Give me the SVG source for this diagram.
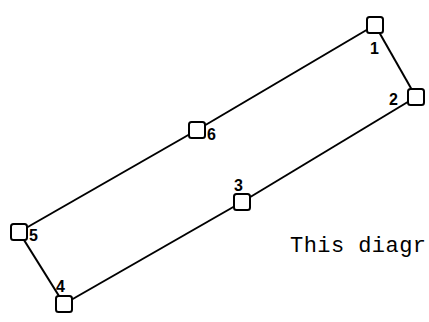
<svg xmlns="http://www.w3.org/2000/svg" width="429" height="322" viewBox="0 0 429 322">
<style>
.e{stroke:#000;stroke-width:2;fill:none}
.n{fill:#fff;stroke:#000;stroke-width:2}
.l{font-family:"Liberation Sans",Arial,sans-serif;font-size:16px;font-weight:bold;fill:#000}
.t{font-family:"Liberation Mono","DejaVu Sans Mono",monospace;font-size:22px;fill:#000}
</style>
<rect width="429" height="322" fill="#fff"/>
<g id="connectors">
<line class="e" x1="375" y1="25" x2="416" y2="97"/>
<line class="e" x1="416" y1="97" x2="242" y2="202"/>
<line class="e" x1="242" y1="202" x2="64" y2="304"/>
<line class="e" x1="64" y1="304" x2="19" y2="232"/>
<line class="e" x1="19" y1="232" x2="197" y2="130"/>
<line class="e" x1="197" y1="130" x2="375" y2="25"/>
</g>
<g id="n1"><rect class="n" x="367" y="17" width="16" height="16" rx="2.5"/><text class="l" x="370" y="54">1</text></g>
<g id="n2"><rect class="n" x="408" y="89" width="16" height="16" rx="2.5"/><text class="l" x="389" y="105">2</text></g>
<g id="n3"><rect class="n" x="234" y="194" width="16" height="16" rx="2.5"/><text class="l" x="234" y="191">3</text></g>
<g id="n4"><rect class="n" x="56" y="296" width="16" height="16" rx="2.5"/><text class="l" x="56" y="292">4</text></g>
<g id="n5"><rect class="n" x="11" y="224" width="16" height="16" rx="2.5"/><text class="l" x="29" y="241">5</text></g>
<g id="n6"><rect class="n" x="189" y="122" width="16" height="16" rx="2.5"/><text class="l" x="207" y="140">6</text></g>
<text class="t" x="290" y="252" textLength="136" lengthAdjust="spacing">This diagr</text>
</svg>
